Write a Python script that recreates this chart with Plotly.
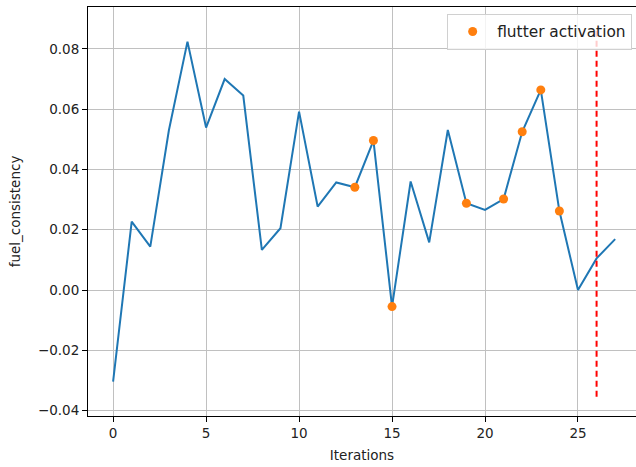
import plotly.graph_objects as go

iterations = list(range(28))
fuel_consistency = [-0.0304, 0.0227, 0.0144, 0.0530, 0.0824, 0.0539, 0.0700, 0.0645,
                    0.0133, 0.0205, 0.0592, 0.0277, 0.0357, 0.0341, 0.0496, -0.0055,
                    0.0360, 0.0158, 0.0531, 0.0288, 0.0266, 0.0302, 0.0525, 0.0664,
                    0.0262, 0.0000, 0.0105, 0.0169]
flutter_idx = [13, 14, 15, 19, 21, 22, 23, 24]
flutter_x = flutter_idx
flutter_y = [fuel_consistency[i] for i in flutter_idx]
vline_x = 26
vline_y = [-0.0354, 0.087]
x_ticks = [0, 5, 10, 15, 20, 25]
y_ticks = [-0.04, -0.02, 0.0, 0.02, 0.04, 0.06, 0.08]

FONT = "DejaVu Sans"
fig = go.Figure()
fig.add_trace(go.Scatter(x=iterations, y=fuel_consistency, mode="lines",
                         line=dict(color="#1f77b4", width=2), showlegend=False))
fig.add_trace(go.Scatter(x=[vline_x, vline_x], y=vline_y, mode="lines",
                         line=dict(color="red", width=2, dash="6px,4px"), showlegend=False))
fig.add_trace(go.Scatter(x=flutter_x, y=flutter_y, mode="markers", name="flutter activation",
                         marker=dict(color="#ff7f0e", size=9)))

axis_common = dict(showline=True, linecolor="black", linewidth=1, mirror=True,
                   showgrid=True, gridcolor="#c0c0c0", gridwidth=1,
                   ticks="outside", ticklen=5, tickcolor="black",
                   tickfont=dict(family=FONT, size=13.5, color="#222"), zeroline=False)
fig.update_xaxes(range=[-1.35, 28.12], tickvals=x_ticks, **axis_common,
                 title=dict(text="Iterations", font=dict(family=FONT, size=13.5, color="#222"), standoff=10))
fig.update_yaxes(range=[-0.0418, 0.0939], tickvals=y_ticks,
                 ticktext=[("\u2212%.2f" % -v) if v < 0 else "%.2f" % v for v in y_ticks],
                 **axis_common,
                 title=dict(text="fuel_consistency", font=dict(family=FONT, size=13.5, color="#222"), standoff=14))
fig.update_layout(width=636, height=467, margin=dict(l=88, r=0, t=7, b=51),
                  plot_bgcolor="white", paper_bgcolor="white",
                  font=dict(family=FONT),
                  legend=dict(x=0.993, y=0.983, xanchor="right", yanchor="top", itemwidth=39,
                              bgcolor="rgba(255,255,255,0.8)", bordercolor="#d0d0d0", borderwidth=1,
                              font=dict(family=FONT, size=15.4, color="#222")))
fig.write_html("out.html")
